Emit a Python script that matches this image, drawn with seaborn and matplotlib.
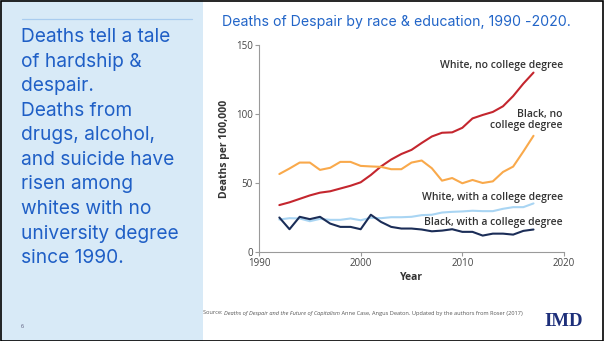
import matplotlib
matplotlib.use("Agg")
import matplotlib.pyplot as plt
from matplotlib.patches import Rectangle
from matplotlib.lines import Line2D
import seaborn as sns
import pandas as pd

years = list(range(1992, 2018))
white_no_college = [34, 36, 38.5, 41, 43, 44, 46, 48, 50.5, 55.8, 62, 67, 71, 74,
                    79, 83.7, 86.4, 86.7, 90, 96.8, 99.3, 101.5, 105.6, 113, 122, 130]
black_no_college = [56.5, 60.5, 64.8, 64.8, 59.5, 61, 65.3, 65.3, 62.4, 62, 61.7, 60, 60,
                    64.8, 66.3, 60.7, 51.7, 53.6, 49.8, 52.2, 50, 51.2, 58, 61.9, 72.8, 84.2]
white_college = [23.5, 24.5, 24.3, 22.3, 24, 23.3, 23.3, 24.3, 23, 24.8, 24.5, 25.2, 25.2,
                 25.5, 26.7, 27, 28.6, 29.1, 29.4, 29.9, 29.6, 29.6, 31.3, 32.5, 32.5, 35.2]
black_college = [25, 16.5, 25.5, 23.8, 25.5, 20.6, 18.2, 18.2, 16.5, 27, 21.8, 18.2, 17,
                 17, 16.3, 15, 15.5, 16.5, 14.6, 14.6, 11.9, 13.3, 13.3, 12.6, 15.3, 16.3]

series_names = ["White, no college degree", "Black, no college degree",
                "White, with a college degree", "Black, with a college degree"]
series_labels = ["White, no college degree", "Black, no\ncollege degree",
                 "White, with a college degree", "Black, with a college degree"]
label_y = [131.5, 88, 35.5, 17.3]
colors = ["#c4262e", "#f9a94b", "#a9d5f3", "#1b2d57"]

x_ticks = [1990, 2000, 2010, 2020]
y_ticks = [0, 50, 100, 150]

title = "Deaths of Despair by race & education, 1990 -2020."
side_text = ("Deaths tell a tale\nof hardship &\ndespair.\nDeaths from\ndrugs, alcohol,\n"
             "and suicide have\nrisen among\nwhites with no\nuniversity degree\nsince 1990.")

df = pd.DataFrame({
    "Year": years * 4,
    "Deaths": white_no_college + black_no_college + white_college + black_college,
    "Group": sum([[n] * len(years) for n in series_names], []),
})

sns.set_theme(style="white")
plt.rcParams["font.family"] = ["Open Sans", "DejaVu Sans"]

W, H = 604, 341
fig = plt.figure(figsize=(W / 100, H / 100), dpi=100)
fig.patch.set_facecolor("white")

# left panel
fig.patches.append(Rectangle((0, 0), 203 / W, 1, transform=fig.transFigure,
                             facecolor="#d8eaf7", edgecolor="none", zorder=0))
fig.lines.append(Line2D([22 / W, 192 / W], [1 - 19 / H, 1 - 19 / H], transform=fig.transFigure,
                        color="#a9ccef", lw=0.9))
fig.text(21 / W, 1 - 28 / H, side_text, ha="left", va="top", fontsize=13.8,
         color="#1f5fc6", family=["Inter", "DejaVu Sans"], linespacing=1.47)
fig.text(21 / W, 1 - 326 / H, "6", ha="left", va="center", fontsize=4, color="#555577")

# title
fig.text(222 / W, 1 - 22 / H, title, ha="left", va="center", fontsize=10.2,
         color="#2265c8", family=["Inter", "DejaVu Sans"])

ax = fig.add_axes([259 / W, 1 - 252 / H, 305 / W, 207 / H])
sns.lineplot(data=df, x="Year", y="Deaths", hue="Group", palette=colors,
             hue_order=series_names, ax=ax, lw=1.5, legend=False)
ax.set_xlim(1990, 2020)
ax.set_ylim(0, 150)
ax.set_xticks(x_ticks)
ax.set_yticks(y_ticks)
for s in ["top", "right"]:
    ax.spines[s].set_visible(False)
for s in ["left", "bottom"]:
    ax.spines[s].set_color("#9a9a9a")
    ax.spines[s].set_linewidth(0.8)
ax.tick_params(axis="both", which="both", length=3, width=0.8, color="#9a9a9a",
               labelsize=7, labelcolor="#444444", pad=1.5, bottom=True, left=True)
ax.set_xlabel("Year", fontsize=7.5, fontweight="bold", color="#333333", labelpad=2)
ax.set_ylabel("Deaths per 100,000", fontsize=7.5, fontweight="bold", color="#333333", labelpad=4)
ax.set_facecolor("white")

for lab, yv in zip(series_labels, label_y):
    ax.text(2019.9, yv, lab, ha="right", va="bottom", fontsize=7.5, fontweight="semibold",
            color="#333333", linespacing=1.0)

# source line
renderer = fig.canvas.get_renderer()
parts = [("Source: ", "normal"), ("Deaths of Despair and the Future of Capitalism", "italic"),
         (" Anne Case, Angus Deaton. Updated by the authors from Roser (2017)", "normal")]
xpix = 203
for txt, style in parts:
    t = fig.text(xpix / W, 1 - 313 / H, txt, ha="left", va="center", fontsize=4.05,
                 style=style, color="#555555")
    bb = t.get_window_extent(renderer)
    xpix += bb.width

# logo
fig.text(563.5 / W, 1 - 321 / H, "IMD", ha="center", va="center", fontsize=13.5,
         fontweight="bold", color="#1d2f7a", family=["Liberation Serif", "DejaVu Serif"])

# slide border
fig.patches.append(Rectangle((0.5 / W, 0.5 / H), 1 - 1.5 / W, 1 - 1.5 / H,
                             transform=fig.transFigure, facecolor="none",
                             edgecolor="black", lw=1.2, zorder=10))

fig.savefig("out.png", dpi=100)
